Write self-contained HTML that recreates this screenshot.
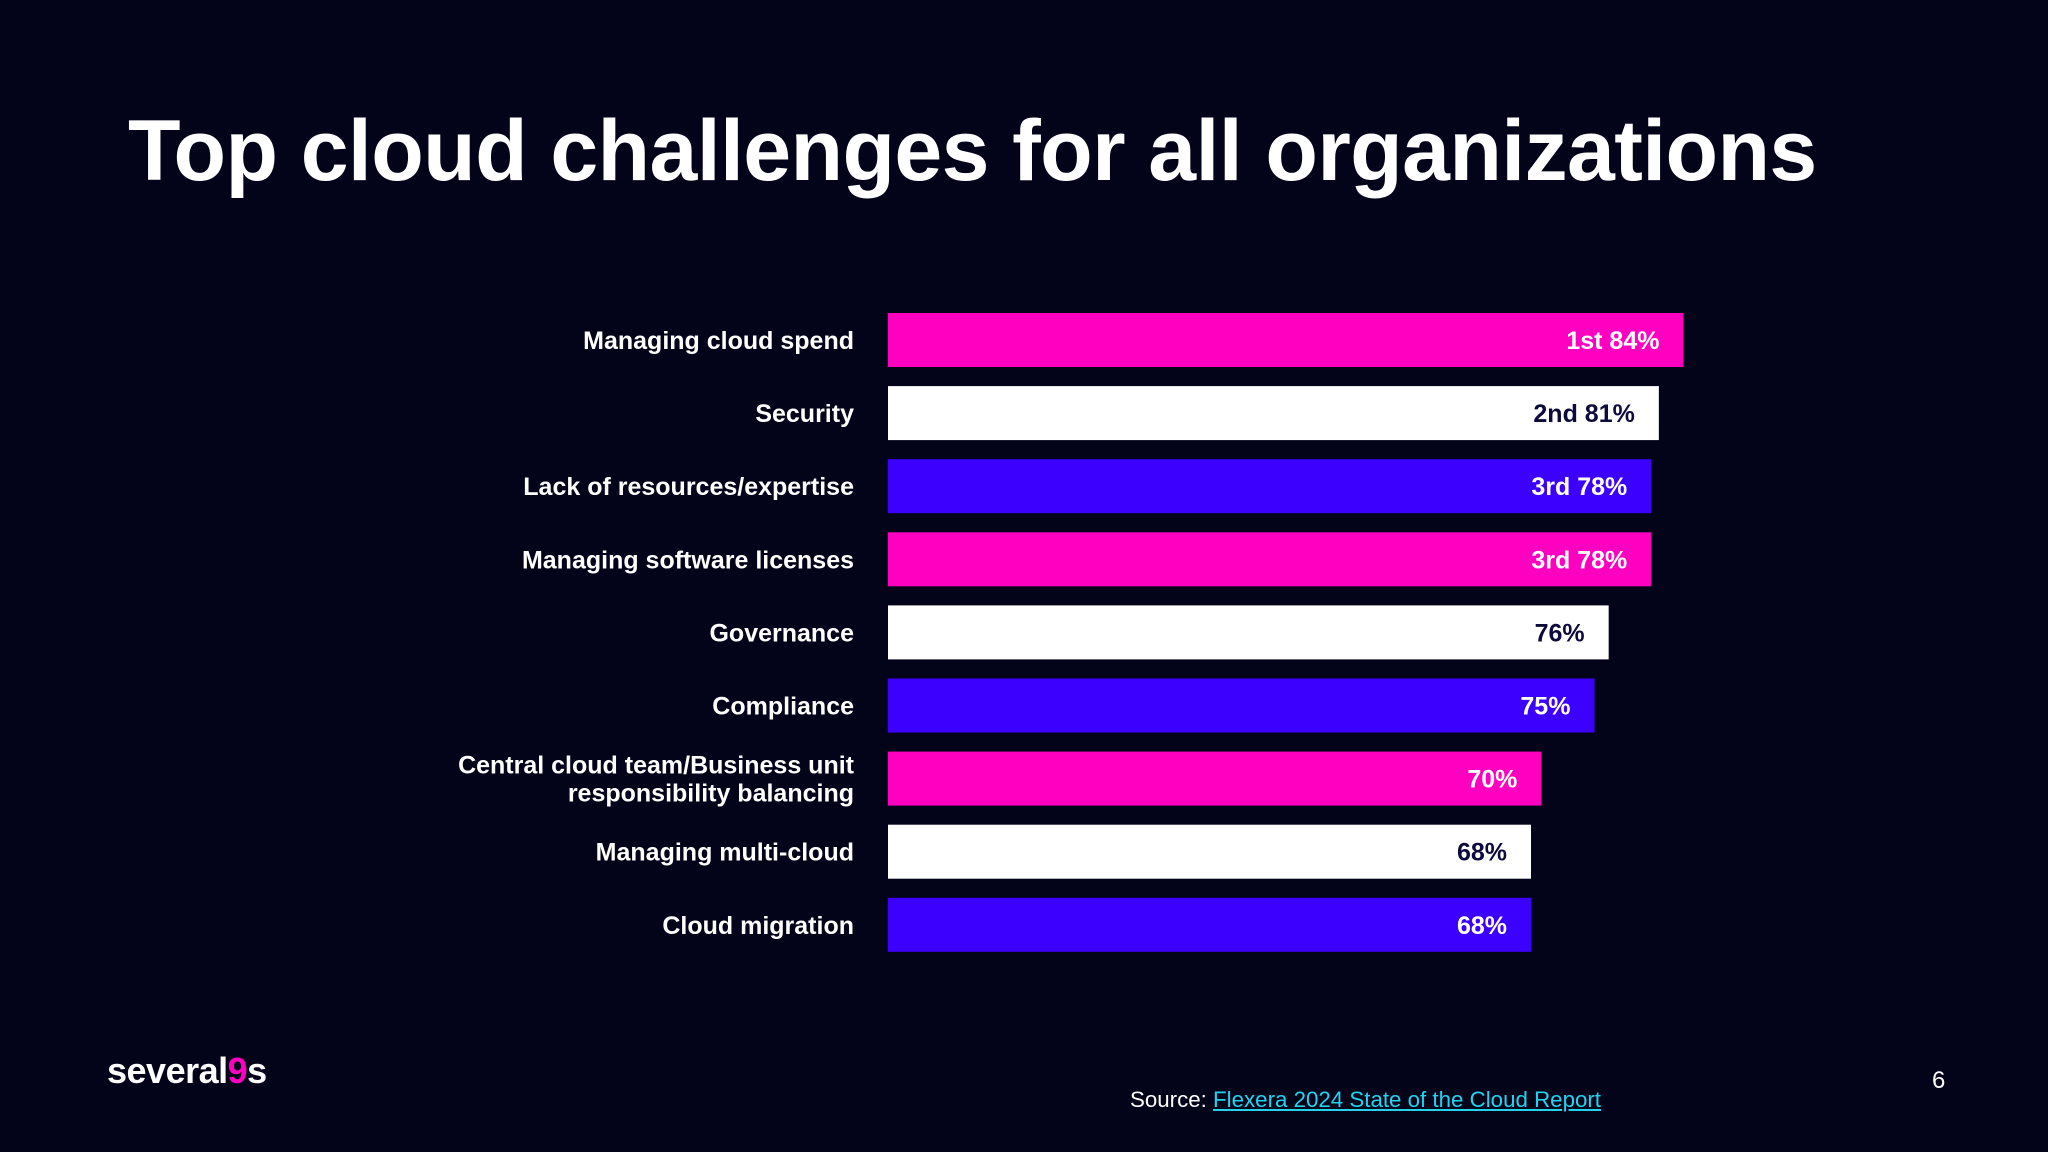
<!DOCTYPE html>
<html><head><meta charset="utf-8">
<style>
html,body{margin:0;padding:0;}
body{width:2048px;height:1152px;background:#03031a;position:relative;overflow:hidden;font-family:"Liberation Sans",sans-serif;color:#fff;}
#title{position:absolute;left:128px;top:102px;font-size:86px;font-weight:bold;letter-spacing:-0.6px;margin:0;}
#chart{position:absolute;left:0;top:0;}
#logo{position:absolute;left:107px;top:1050px;font-size:36px;font-weight:bold;letter-spacing:-0.5px;}
#logo span{color:#ff00c0;}
#source{position:absolute;left:1130px;top:1087px;font-size:22.3px;}
#source a{color:#22d3ee;text-decoration:underline;}
#page{position:absolute;left:1932px;top:1067px;font-size:24px;}
</style></head>
<body>
<h1 id="title">Top cloud challenges for all organizations</h1>
<svg id="chart" width="2048" height="1152"></svg>
<div id="logo">several<span>9</span>s</div>
<div id="source">Source: <a>Flexera 2024 State of the Cloud Report</a></div>
<div id="page">6</div>
<script>
const categories = ["Managing cloud spend","Security","Lack of resources/expertise","Managing software licenses","Governance","Compliance","Central cloud team/Business unit|responsibility balancing","Managing multi-cloud","Cloud migration"];
const values = [84,81.4,80.6,80.6,76.1,74.6,69,67.9,67.9];
const valueLabels = ["84%","81%","78%","78%","76%","75%","70%","68%","68%"];
const ranks = ["1st ","2nd","3rd","3rd","","","","",""];
const fills = ["#ff00c0","#ffffff","#3c00ff","#ff00c0","#ffffff","#3c00ff","#ff00c0","#ffffff","#3c00ff"];
const ns="http://www.w3.org/2000/svg";
const svg=document.getElementById('chart');
const x0=888, pxPer=9.47, y0=313, pitch=73.1, bh=54;
const xs=v=>x0+v*pxPer;
const ys=i=>y0+i*pitch;
categories.forEach((c,i)=>{
  const r=document.createElementNS(ns,'rect');
  r.setAttribute('x',x0);r.setAttribute('y',ys(i));
  r.setAttribute('width',xs(values[i])-x0);r.setAttribute('height',bh);
  r.setAttribute('fill',fills[i]);
  
  
  svg.appendChild(r);
  const t=document.createElementNS(ns,'text');
  t.setAttribute('x',xs(values[i])-24);t.setAttribute('y',ys(i)+bh/2+9);
  t.setAttribute('text-anchor','end');t.setAttribute('font-size','25');t.setAttribute('font-weight','bold');
  t.setAttribute('font-family','Liberation Sans, sans-serif');
  t.setAttribute('fill',fills[i]==='#ffffff'?'#0d0a3c':'#ffffff');
  t.setAttribute('xml:space','preserve');
  t.textContent=(ranks[i]?ranks[i]+' ':'')+valueLabels[i];
  
  
  svg.appendChild(t);
  const lines=c.split('|');
  lines.forEach((ln,k)=>{
    const l=document.createElementNS(ns,'text');
    l.setAttribute('x',854);
    l.setAttribute('y',ys(i)+bh/2+9+(lines.length>1?(k-0.5)*28:0));
    l.setAttribute('text-anchor','end');l.setAttribute('font-size','25');l.setAttribute('font-weight','bold');
    l.setAttribute('font-family','Liberation Sans, sans-serif');l.setAttribute('fill','#ffffff');
    l.textContent=ln;
    
    
    svg.appendChild(l);
  });
});
</script>
</body></html>
